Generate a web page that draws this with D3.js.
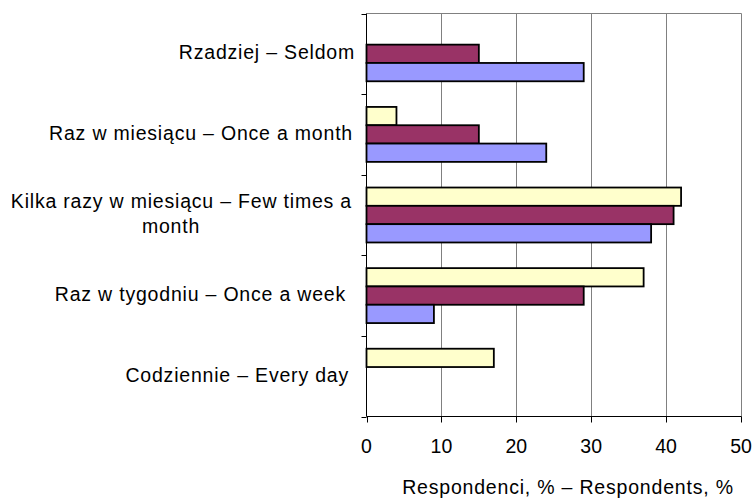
<!DOCTYPE html>
<html>
<head>
<meta charset="utf-8">
<script src="https://cdn.jsdelivr.net/npm/d3@7"></script>
<style>
  html, body { margin: 0; padding: 0; background: #ffffff; }
  svg text { font-family: "Liberation Sans", Arial, sans-serif; font-size: 19.5px; letter-spacing: 0.8px; fill: #000; }
</style>
</head>
<body>
<svg id="chart" width="755" height="501"></svg>
<script>
// Frequency categories, top to bottom; each entry is a list of label lines
const categories = [
  ["Rzadziej – Seldom"],
  ["Raz w miesiącu – Once a month"],
  ["Kilka razy w miesiącu – Few times a", "month"],
  ["Raz w tygodniu – Once a week"],
  ["Codziennie – Every day"]
];

// Share of respondents (%) per category, one array per group
const groupA = [null, 4, 42, 37, 17];
const groupB = [15, 15, 41, 29, null];
const groupC = [29, 24, 38, 9, null];

const seriesNames = ["groupA", "groupB", "groupC"];
const seriesValues = [groupA, groupB, groupC];
const seriesColors = ["#FFFFCC", "#993366", "#9999FF"];

const xTicks = [0, 10, 20, 30, 40, 50];
const axisTitle = "Respondenci, % – Respondents, %";

// Right edge of each category label's first line (layout only)
const labelRight = [355, 353, 352, 346, 349];

const svg = d3.select("#chart");
const plotLeft = 366.5, plotRight = 741, plotTop = 13.5, plotBottom = 416.5;

const x = d3.scaleLinear().domain([0, 50]).range([plotLeft, plotRight]);
const y = d3.scaleBand().domain(d3.range(categories.length)).range([plotTop, plotBottom]).padding(0);
const inner = d3.scaleBand().domain(seriesNames).range([0, y.bandwidth()])
  .paddingInner(0).paddingOuter(0.7);

// Vertical gridlines (the 50 line doubles as the right border)
svg.append("g").selectAll("line").data(xTicks.slice(1)).join("line")
  .attr("x1", d => Math.round(x(d)) + 0.5).attr("x2", d => Math.round(x(d)) + 0.5)
  .attr("y1", plotTop).attr("y2", plotBottom)
  .attr("stroke", "#808080").attr("stroke-width", 1);

// Top border of the plot area
svg.append("line")
  .attr("x1", plotLeft).attr("x2", Math.round(plotRight) + 0.5)
  .attr("y1", plotTop).attr("y2", plotTop)
  .attr("stroke", "#808080").attr("stroke-width", 1);

// Bars
const barData = [];
seriesValues.forEach((vals, s) => {
  vals.forEach((v, i) => {
    if (v !== null && v > 0) barData.push({ s, i, v });
  });
});
svg.append("g").selectAll("rect").data(barData).join("rect")
  .attr("x", x(0))
  .attr("y", d => y(d.i) + inner(seriesNames[d.s]))
  .attr("width", d => x(d.v) - x(0))
  .attr("height", inner.bandwidth())
  .attr("fill", d => seriesColors[d.s])
  .attr("stroke", "#000")
  .attr("stroke-width", 1.8);

// X axis
const xAxis = svg.append("g").attr("transform", `translate(0,${plotBottom})`);
xAxis.append("line").attr("x1", plotLeft).attr("x2", Math.round(plotRight) + 0.5)
  .attr("y1", 0).attr("y2", 0).attr("stroke", "#000").attr("stroke-width", 1);
xAxis.selectAll("line.tick").data(xTicks).join("line").attr("class", "tick")
  .attr("x1", d => Math.round(x(d)) + 0.5).attr("x2", d => Math.round(x(d)) + 0.5)
  .attr("y1", 0).attr("y2", 6).attr("stroke", "#000");
xAxis.selectAll("text").data(xTicks).join("text")
  .attr("x", d => x(d)).attr("y", 36.5)
  .attr("text-anchor", "middle")
  .style("letter-spacing", "0px")
  .text(d => d);

// Y axis with category boundary ticks
const yAxis = svg.append("g");
yAxis.append("line").attr("x1", plotLeft).attr("x2", plotLeft)
  .attr("y1", plotTop).attr("y2", plotBottom).attr("stroke", "#000");
const bounds = d3.range(categories.length + 1).map(i => i < categories.length ? y(i) : plotBottom);
yAxis.selectAll("line.tick").data(bounds).join("line").attr("class", "tick")
  .attr("x1", plotLeft - 5).attr("x2", plotLeft)
  .attr("y1", d => Math.round(d) + 0.5).attr("y2", d => Math.round(d) + 0.5)
  .attr("stroke", "#000");

// Category labels
const labelGroups = svg.append("g").selectAll("g").data(categories).join("g")
  .attr("transform", (d, i) => `translate(0,${y(i) + y.bandwidth() / 2 + 5.5})`);
labelGroups.each(function (lines, i) {
  const g = d3.select(this);
  const lh = 25;
  const off = -(lines.length - 1) * lh / 2;
  lines.forEach((t, k) => {
    const last = k === lines.length - 1 && lines.length > 1;
    g.append("text")
      .attr("x", last ? 171 : labelRight[i])
      .attr("y", off + k * lh)
      .attr("text-anchor", last ? "middle" : "end")
      .text(t);
  });
});

// Axis title
svg.append("text")
  .attr("x", 568).attr("y", 494)
  .attr("text-anchor", "middle")
  .text(axisTitle);
</script>
</body>
</html>
